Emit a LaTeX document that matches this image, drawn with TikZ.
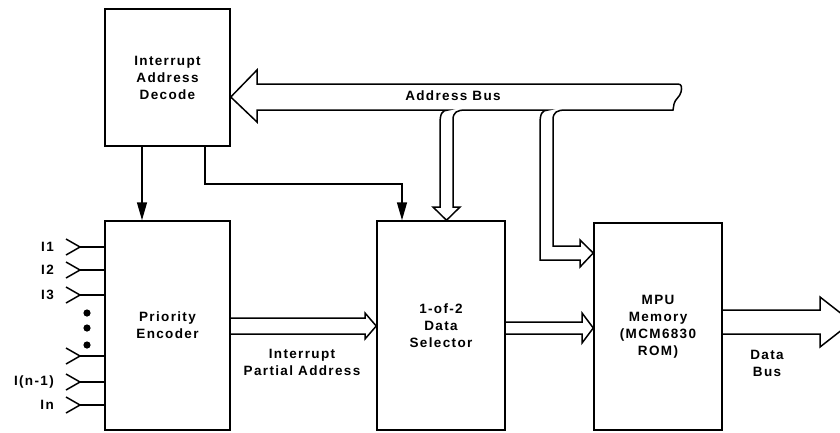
\documentclass[tikz,border=0pt]{standalone}
\usepackage{fontspec}
\setmainfont{Liberation Sans}[LetterSpace=10]
\usetikzlibrary{arrows.meta}
\newcommand{\dfont}{\fontsize{13.5}{17}\selectfont\bfseries}
\tikzset{
  lw/.style={line width=1.5pt},
  blk/.style={draw, lw, align=center, inner sep=0pt, font=\dfont},
  lbl/.style={align=center, inner sep=0pt, font=\dfont},
  sig/.style={lw, -{Triangle[length=18pt,width=10pt]}},
  bus/.style={lw, line join=miter},
  inpin/.style={lw},
}
\begin{document}
\begin{tikzpicture}[x=1pt,y=-1pt]
\useasboundingbox (0,0) rectangle (840,432);
\clip (0,0) rectangle (840,432);
% blocks
\node[blk, minimum width=125pt, minimum height=137pt] (iad) at (167.5,77.5) {Interrupt\\Address\\Decode};
\node[blk, minimum width=125pt, minimum height=209pt] (pe) at (167.5,325.5) {Priority\\Encoder};
\node[blk, minimum width=128pt, minimum height=209pt] (ds) at (441,325.5) {1-of-2\\Data\\Selector};
\node[blk, minimum width=128pt, minimum height=207pt] (mpu) at (658,326.5) {MPU\\Memory\\(MCM6830\\ROM)};
% address bus outline
\draw[bus] (iad.east |- 0,97) -- (257,70) -- (257,84) -- (678,84)
  .. controls (682,84) and (682,88) .. (681,92)
  .. controls (680,97) and (675,99) .. (674,104) -- (673,110)
  -- (566,110) .. controls (557,110) and (553,112) .. (553,120) -- (553,246)
  -- (580,246) -- (580,240) -- (mpu.west |- 0,253) -- (580,267) -- (580,260) -- (540,260)
  -- (540,124) .. controls (540,114) and (542,110) .. (548,110)
  -- (466,110) .. controls (457,110) and (453,112) .. (453,120) -- (453,207)
  -- (460,207) -- (ds.north -| 446.5,0) -- (433,207) -- (440,207)
  -- (440,124) .. controls (440,114) and (442,110) .. (448,110)
  -- (257,110) -- (257,122) -- cycle;
\node[lbl] (abus) at (453,96) {Address Bus};
% decode control lines
\draw[sig] (iad.south -| 142,0) -- (pe.north -| 142,0);
\coordinate (c1) at (205,184);
\draw[sig] (iad.south -| 205,0) -- (c1) -| (ds.north -| 402,0);
% PE -> DS wide arrow
\draw[bus] (pe.east |- 0,318) -- (365,318) -- (365,313) -- (ds.west |- 0,326) -- (365,339) -- (365,334) -- (pe.east |- 0,334);
\node[lbl] (ipa) at (302,362) {Interrupt\\Partial Address};
% DS -> MPU wide arrow
\draw[bus] (ds.east |- 0,322) -- (582,322) -- (582,313) -- (mpu.west |- 0,328) -- (582,343) -- (582,334) -- (ds.east |- 0,334);
% data bus out
\coordinate (dtip) at (852,322);
\draw[bus] (mpu.east |- 0,310) -- (820,310) -- (820,297) -- (dtip) -- (820,347) -- (820,334) -- (mpu.east |- 0,334);
\node[lbl] (dbus) at (767,363) {Data\\Bus};
% inputs
\foreach \yy/\nm/\tx in {247/i1/I1, 270/i2/I2, 295/i3/I3, 356/ix/{}, 382/in1/I(n-1), 405/in/In}{
  \coordinate (\nm p) at (80,\yy);
  \draw[inpin, line join=miter] (66,\yy-8) -- (\nm p) -- (66,\yy+8);
  \draw[inpin] (\nm p) -- (pe.west |- \nm p);
  \node[lbl, anchor=east] (\nm l) at (54,\yy) {\tx};
}
\foreach \yy/\nm in {313/d1, 328/d2, 345/d3}{
  \fill (87,\yy) circle (3.6pt) coordinate (\nm);
}
\end{tikzpicture}
\end{document}
